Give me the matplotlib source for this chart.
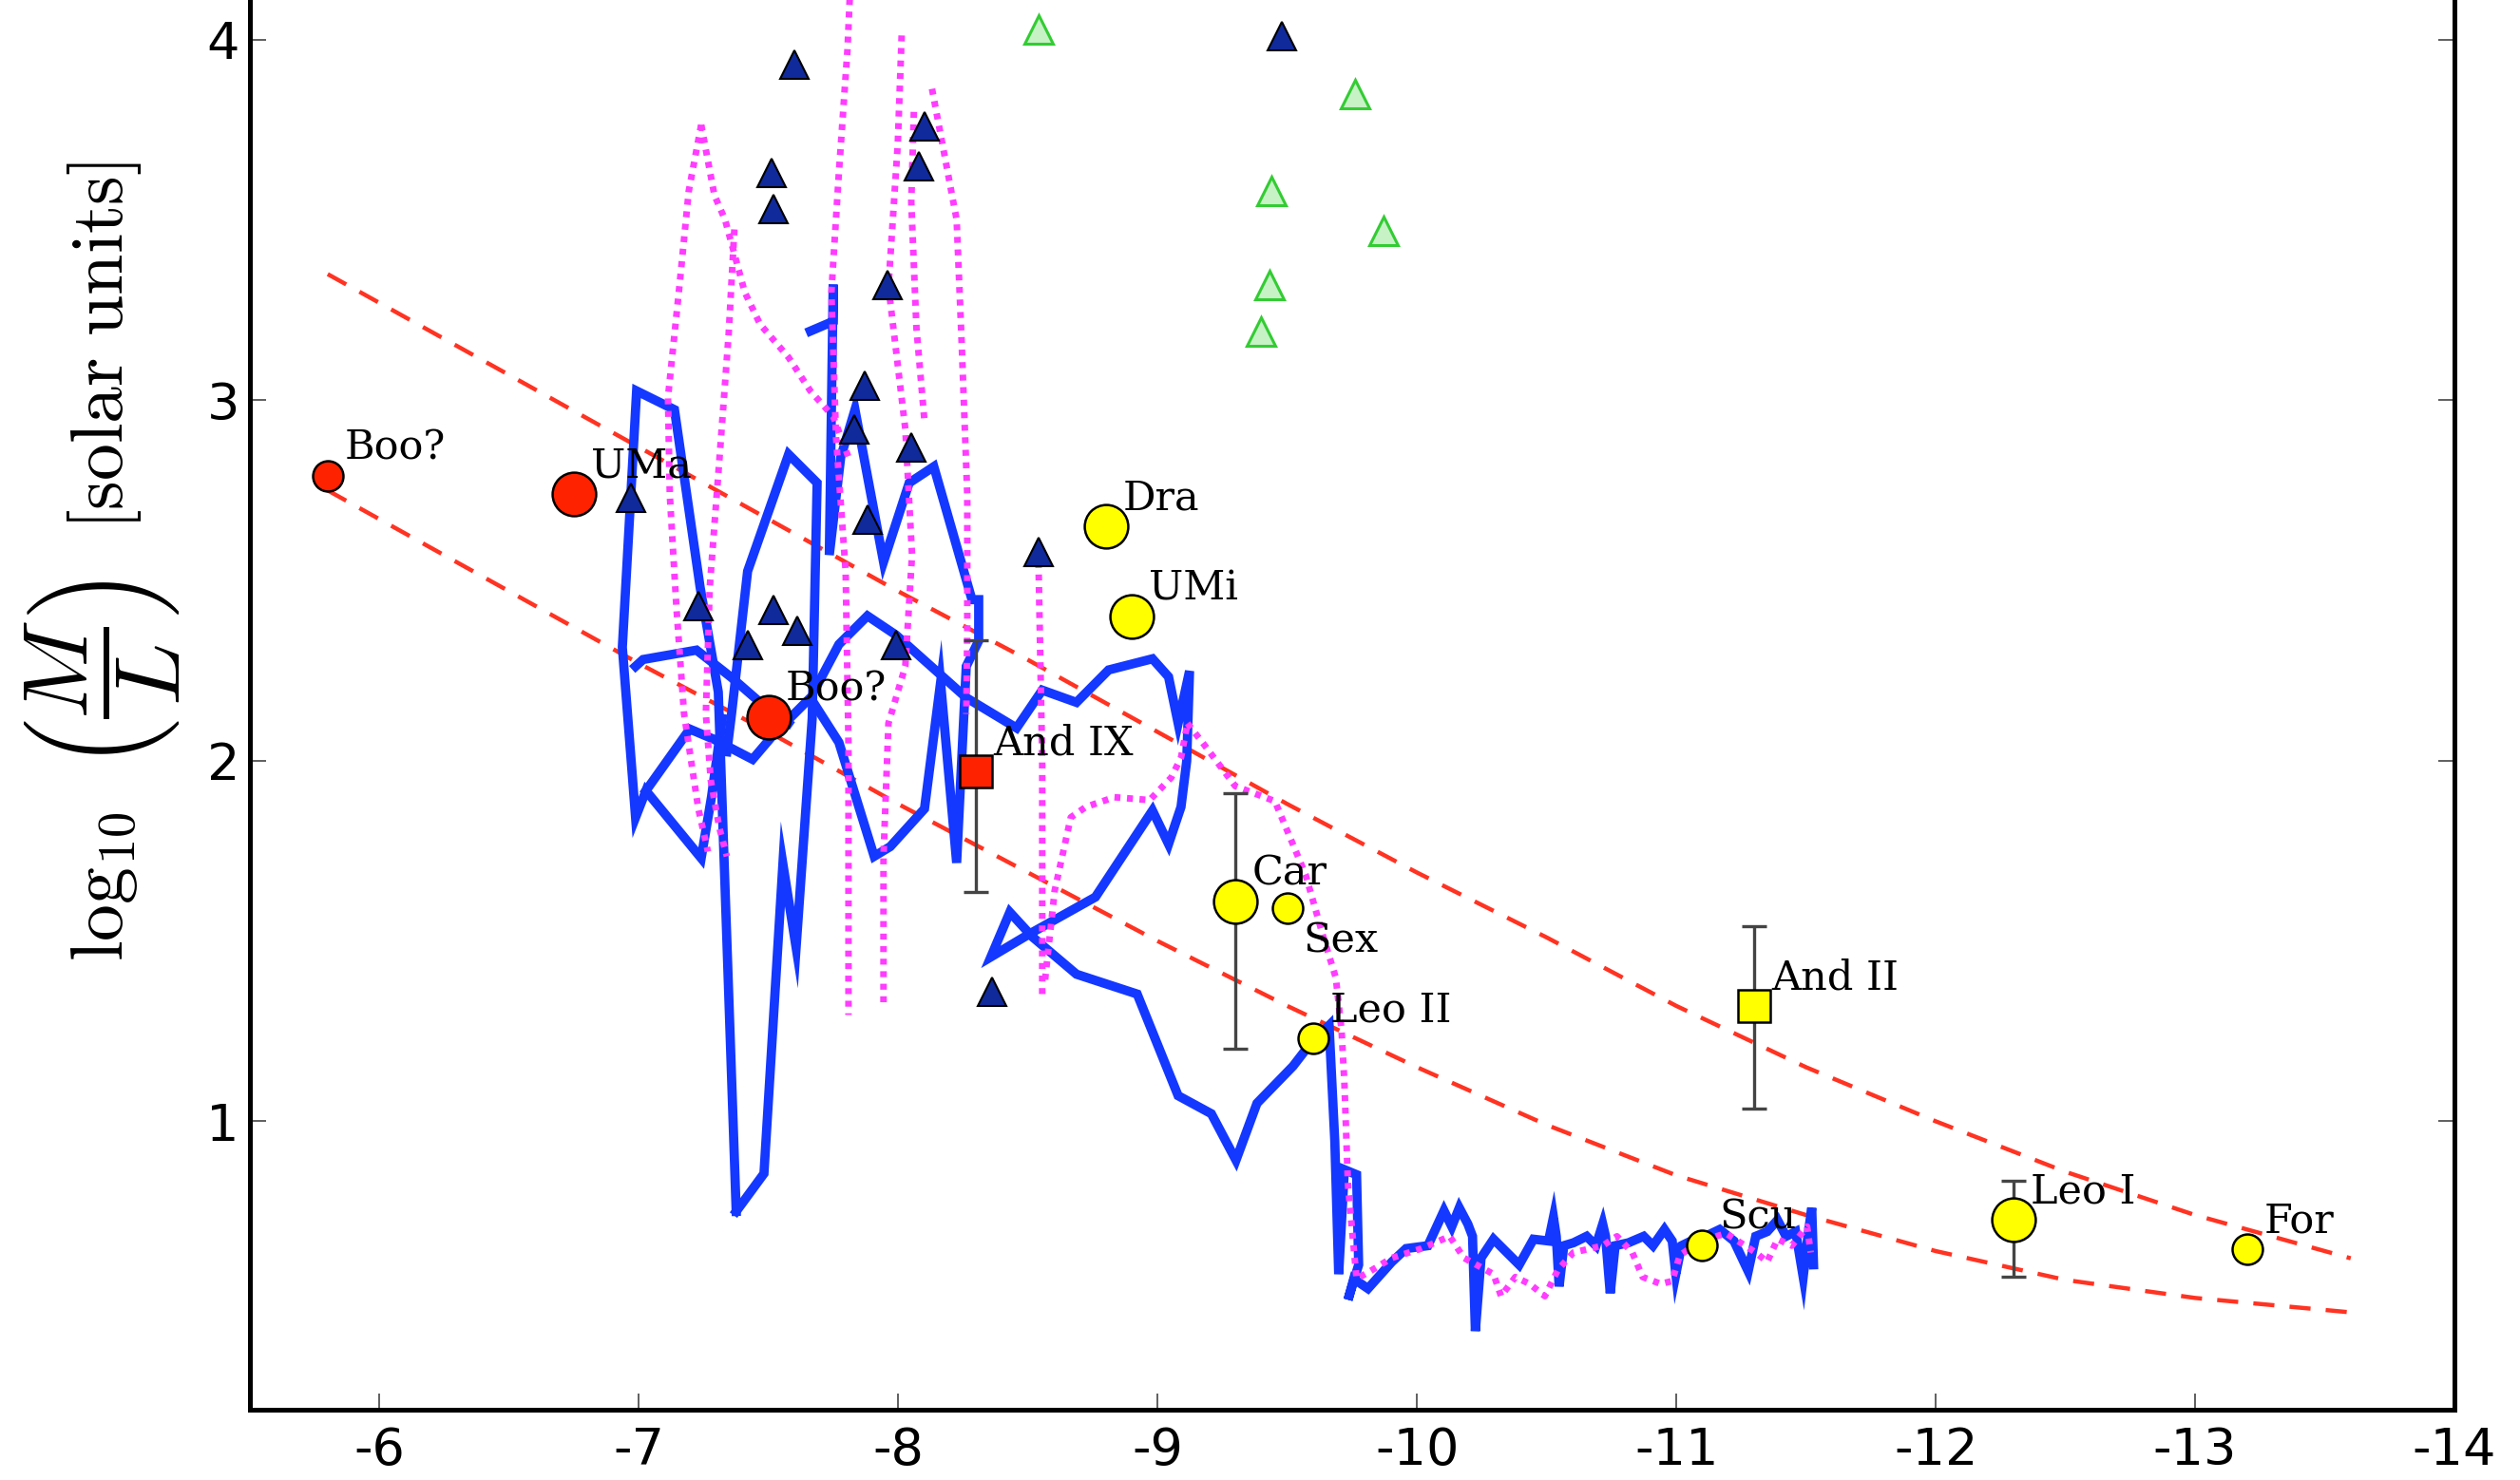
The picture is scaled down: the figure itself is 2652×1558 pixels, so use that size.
import matplotlib
matplotlib.use('Agg')
import matplotlib.pyplot as plt

plt.rcParams['mathtext.fontset'] = 'cm'
plt.rcParams['axes.unicode_minus'] = False

# ---------------- data ----------------
# labelled galaxies: (Mv, log10 M/L)
red_names = ['Boo?', 'UMa', 'Boo?']
red_x = [-5.8, -6.75, -7.5]
red_y = [2.79, 2.74, 2.12]
red_big = [False, True, True]

yel_names = ['Dra', 'UMi', 'Car', 'Sex', 'Leo II', 'Scu', 'Leo I', 'For']
yel_x = [-8.8, -8.9, -9.3, -9.5, -9.6, -11.1, -12.3, -13.2]
yel_y = [2.65, 2.40, 1.61, 1.59, 1.23, 0.655, 0.726, 0.644]
yel_big = [True, True, True, False, False, False, True, False]

sq_names = ['And IX', 'And II']
sq_x = [-8.3, -11.3]
sq_y = [1.97, 1.32]
sq_color = ['#ff2200', '#ffff00']

# error bars (x, y, minus, plus)
err_x = [-8.3, -9.3, -11.3, -12.3]
err_y = [1.97, 1.61, 1.32, 0.726]
err_lo = [0.335, 0.41, 0.285, 0.158]
err_hi = [0.365, 0.30, 0.22, 0.108]

# dark blue filled triangles
tri_x = [-6.97, -7.23, -7.52, -7.42, -7.61, -7.99, -7.87, -7.83, -8.05, -7.88,
         -7.96, -8.54, -7.60, -7.51, -7.52, -8.10, -8.08, -9.48, -8.36]
tri_y = [2.73, 2.43, 2.42, 2.32, 2.36, 2.32, 3.04, 2.92, 2.87, 2.67,
         3.32, 2.58, 3.93, 3.63, 3.53, 3.76, 3.65, 4.01, 1.36]

# open green triangles
gtri_x = [-8.54, -9.76, -9.44, -9.87, -9.43, -9.40]
gtri_y = [4.03, 3.85, 3.58, 3.47, 3.32, 3.19]

# red dashed model curves
curve_x = [-5.8, -6.0, -6.5, -7.0, -7.5, -8.0, -8.5, -9.0, -9.5, -10.0,
           -10.5, -11.0, -11.5, -12.0, -12.5, -13.0, -13.6]
curve_upper = [3.35, 3.27, 3.07, 2.87, 2.67, 2.47, 2.28, 2.08, 1.88, 1.69,
               1.51, 1.32, 1.15, 1.00, 0.86, 0.74, 0.62]
curve_lower = [2.75, 2.67, 2.47, 2.27, 2.08, 1.88, 1.69, 1.50, 1.32, 1.15,
               0.99, 0.85, 0.74, 0.64, 0.56, 0.51, 0.47]

# blue solid tracks
blue1_x = [-7.375, -7.306, -7.236, -7.137, -6.991, -6.936, -6.987, -7.027, -7.240, -7.280, -7.321]
blue1_y = [0.75, 2.191, 2.481, 2.974, 3.026, 2.315, 1.843, 1.917, 1.730, 1.901, 2.117]

blue2_x = [-7.027, -7.196, -7.291, -7.438, -7.522, -7.661, -7.771, -7.907, -7.969, -8.101,
           -8.163, -8.225, -8.262, -8.310, -8.310, -8.284, -8.137, -8.042, -7.943, -7.833,
           -7.778, -7.734, -7.749, -7.749, -7.661]
blue2_y = [1.917, 2.088, 2.059, 2.004, 2.075, 2.175, 2.051, 1.735, 1.762, 1.867,
           2.217, 1.717, 2.262, 2.333, 2.447, 2.447, 2.816, 2.771, 2.552, 2.974,
           2.842, 2.571, 3.321, 3.219, 3.192]

blue3_x = [-6.987, -7.016, -7.222, -7.357, -7.496, -7.577]
blue3_y = [2.262, 2.281, 2.307, 2.231, 2.144, 2.104]

blue4_x = [-7.375, -7.482, -7.555, -7.606, -7.668, -7.687, -7.577, -7.419, -7.357, -7.339]
blue4_y = [0.75, 0.855, 1.714, 1.482, 2.117, 2.771, 2.850, 2.526, 2.130, 2.025]

blue5_x = [-7.687, -7.771, -7.881, -7.991, -8.262, -8.456, -8.555, -8.687, -8.811, -8.980,
           -9.042, -9.079, -9.123, -9.112, -9.090, -9.042, -8.980, -8.760, -8.504, -8.357,
           -8.430, -8.518, -8.687, -8.921, -9.079, -9.207, -9.302, -9.383, -9.522, -9.581,
           -9.661, -9.683, -9.698, -9.720, -9.767, -9.775, -9.734,
           -9.756, -9.811, -9.903, -9.958, -10.042, -10.104, -10.134, -10.163, -10.196, -10.214,
           -10.225, -10.247, -10.295, -10.394, -10.449, -10.507, -10.526, -10.537, -10.548, -10.566,
           -10.603, -10.654, -10.690, -10.716, -10.727, -10.745, -10.764, -10.815, -10.874, -10.910,
           -10.954, -10.984, -10.998, -11.020, -11.057, -11.112, -11.167, -11.222, -11.277, -11.306,
           -11.350, -11.390, -11.423, -11.460, -11.489, -11.507, -11.522, -11.529]
blue5_y = [2.209, 2.323, 2.402, 2.349, 2.175, 2.091, 2.196, 2.162, 2.252, 2.283,
           2.233, 2.104, 2.249, 1.999, 1.872, 1.769, 1.862, 1.622, 1.519, 1.456,
           1.580, 1.511, 1.408, 1.353, 1.071, 1.021, 0.892, 1.050, 1.153, 1.208,
           1.266, 0.945, 0.576, 0.866, 0.852, 0.602, 0.505,
           0.563, 0.536, 0.610, 0.647, 0.655, 0.752, 0.708, 0.760, 0.715, 0.681,
           0.418, 0.621, 0.673, 0.602, 0.673, 0.668, 0.734, 0.681, 0.542, 0.655,
           0.663, 0.681, 0.655, 0.715, 0.681, 0.523, 0.655, 0.663, 0.681, 0.655,
           0.700, 0.668, 0.576, 0.655, 0.668, 0.681, 0.700, 0.668, 0.584, 0.681,
           0.694, 0.726, 0.681, 0.694, 0.568, 0.681, 0.760, 0.602]

# magenta dotted tracks
mag1_x = [-7.240, -7.192, -7.156, -7.112, -7.119, -7.145, -7.174, -7.229, -7.266]
mag1_y = [3.764, 3.580, 3.316, 3.008, 2.737, 2.420, 2.130, 1.867, 1.748]
mag2_x = [-7.240, -7.291, -7.332, -7.408, -7.467, -7.577, -7.661, -7.749, -7.808]
mag2_y = [3.764, 3.569, 3.501, 3.300, 3.211, 3.119, 3.026, 2.955, 2.842]
mag3_x = [-7.368, -7.346, -7.310, -7.273, -7.258, -7.277, -7.310, -7.339]
mag3_y = [3.474, 3.184, 2.834, 2.481, 2.130, 1.946, 1.814, 1.735]
mag4_x = [-7.818, -7.804, -7.771, -7.742, -7.760, -7.797, -7.808, -7.808]
mag4_y = [4.20, 3.972, 3.632, 3.300, 2.897, 2.526, 2.043, 1.295]
mag5_x = [-8.013, -7.998, -7.962, -8.027, -8.053, -8.027, -7.962, -7.943, -7.943]
mag5_y = [4.012, 3.711, 3.316, 2.921, 2.571, 2.262, 2.104, 1.735, 1.314]
mag6_x = [-8.130, -8.225, -8.244, -8.266, -8.266, -8.262]
mag6_y = [3.864, 3.501, 3.166, 2.737, 2.360, 2.130]
mag7_x = [-8.555, -8.555, -8.540]
mag7_y = [1.353, 1.999, 2.573]
mag8_x = [-8.566, -8.603, -8.665, -8.723, -8.833, -8.969, -9.053, -9.090, -9.115]
mag8_y = [1.393, 1.640, 1.843, 1.872, 1.899, 1.891, 1.954, 2.009, 2.104]
mag9_x = [-9.115, -9.178, -9.299, -9.452, -9.570, -9.639, -9.687, -9.709, -9.720, -9.734, -9.767,
          -9.819, -9.903, -10.017, -10.126, -10.181, -10.295, -10.324, -10.379, -10.434, -10.493,
          -10.544, -10.603, -10.716, -10.771, -10.830, -10.870, -10.940, -10.984, -11.013, -11.093,
          -11.192, -11.306, -11.350, -11.390, -11.445, -11.504, -11.518]
mag9_y = [2.104, 2.046, 1.930, 1.888, 1.685, 1.511, 1.398, 1.253, 1.108, 0.821, 0.563,
          0.584, 0.621, 0.647, 0.681, 0.621, 0.576, 0.515, 0.568, 0.549, 0.515,
          0.589, 0.636, 0.655, 0.681, 0.636, 0.568, 0.549, 0.557, 0.628, 0.668,
          0.689, 0.636, 0.610, 0.673, 0.655, 0.708, 0.636]
mag10_x = [-8.06, -8.05, -8.07, -8.10]
mag10_y = [3.80, 3.55, 3.20, 2.95]

xticks = [-6, -7, -8, -9, -10, -11, -12, -13, -14]
xtick_labels = ['-6', '-7', '-8', '-9', '-10', '-11', '-12', '-13', '-14']
yticks = [1, 2, 3, 4]
ytick_labels = ['1', '2', '3', '4']

# ---------------- figure ----------------
fig = plt.figure(figsize=(26.52, 15.58), dpi=100)
ax = fig.add_axes([0.09917, 0.0475, 0.87481, 1.0474])
ax.set_xlim(-5.5, -14)
ax.set_ylim(0.2, 4.5)

RED_LINE = '#ff3322'
BLUE = '#1438ff'
MAGENTA = '#ff3cff'

ax.plot(curve_x, curve_upper, color=RED_LINE, lw=3.2, dashes=(5.0, 3.6), zorder=1)
ax.plot(curve_x, curve_lower, color=RED_LINE, lw=3.2, dashes=(5.0, 3.6), zorder=1)

for bx, by in [(blue1_x, blue1_y), (blue2_x, blue2_y), (blue3_x, blue3_y),
               (blue4_x, blue4_y), (blue5_x, blue5_y)]:
    ax.plot(bx, by, color=BLUE, lw=7.0, solid_joinstyle='miter', zorder=2)

for mx, my in [(mag1_x, mag1_y), (mag2_x, mag2_y), (mag3_x, mag3_y), (mag4_x, mag4_y),
               (mag5_x, mag5_y), (mag6_x, mag6_y), (mag7_x, mag7_y), (mag8_x, mag8_y),
               (mag9_x, mag9_y), (mag10_x, mag10_y)]:
    ax.plot(mx, my, color=MAGENTA, lw=5.0, dashes=(0.9, 1.0), zorder=3)

ax.errorbar(err_x, err_y, yerr=[err_lo, err_hi], fmt='none', ecolor='#444444',
            elinewidth=2.4, capsize=9.5, capthick=2.4, zorder=4)

ax.plot(tri_x, tri_y, '^', ms=22, mfc='#102a9c', mec='black', mew=1.5, ls='none', zorder=5)
ax.plot(gtri_x, gtri_y, '^', ms=22, mfc='#c6f2c6', mec='#33cc33', mew=2.2, ls='none', zorder=5)

for x, y, big in zip(red_x, red_y, red_big):
    ax.plot([x], [y], 'o', ms=33 if big else 23, mfc='#ff2200', mec='black', mew=1.8, zorder=6)
for x, y, big in zip(yel_x, yel_y, yel_big):
    ax.plot([x], [y], 'o', ms=33 if big else 23, mfc='#ffff00', mec='black', mew=1.8, zorder=6)
for x, y, c in zip(sq_x, sq_y, sq_color):
    ax.plot([x], [y], 's', ms=25, mfc=c, mec='black', mew=1.8, zorder=6)

label_font = dict(fontsize=31, family='DejaVu Serif', zorder=7)
for names, xs, ys in [(red_names, red_x, red_y), (yel_names, yel_x, yel_y), (sq_names, sq_x, sq_y)]:
    for n, x, y in zip(names, xs, ys):
        if n == 'Sex':
            ax.text(x - 0.062, y - 0.035, n, ha='left', va='top', **label_font)
        else:
            ax.text(x - 0.065, y + 0.047, n, ha='left', va='baseline', **label_font)

for side in ['left', 'right', 'bottom', 'top']:
    ax.spines[side].set_linewidth(3.6)
    ax.spines[side].set_color('black')

ax.set_xticks(xticks)
ax.set_xticklabels(xtick_labels)
ax.set_yticks(yticks)
ax.set_yticklabels(ytick_labels)
ax.tick_params(axis='both', direction='in', length=12, width=1.2, color='#444444',
               labelsize=39, right=True, top=True)
ax.tick_params(axis='x', pad=12)
ax.tick_params(axis='y', pad=8)

# y-axis label, typeset in three pieces sharing one baseline
lab_kw = dict(rotation=90, rotation_mode='anchor', ha='left', va='baseline')
base_x = 0.0486
fig.text(base_x, 0.3504, r'$\log_{10}$', fontsize=56, **lab_kw)
fig.text(base_x, 0.4800, r'$\left(\dfrac{M}{L}\right)$', fontsize=70, **lab_kw)
fig.text(base_x, 0.6418, r'$[\mathrm{solar\ units}]$', fontsize=56, **lab_kw)

fig.savefig('out.png', dpi=100, facecolor='white')
